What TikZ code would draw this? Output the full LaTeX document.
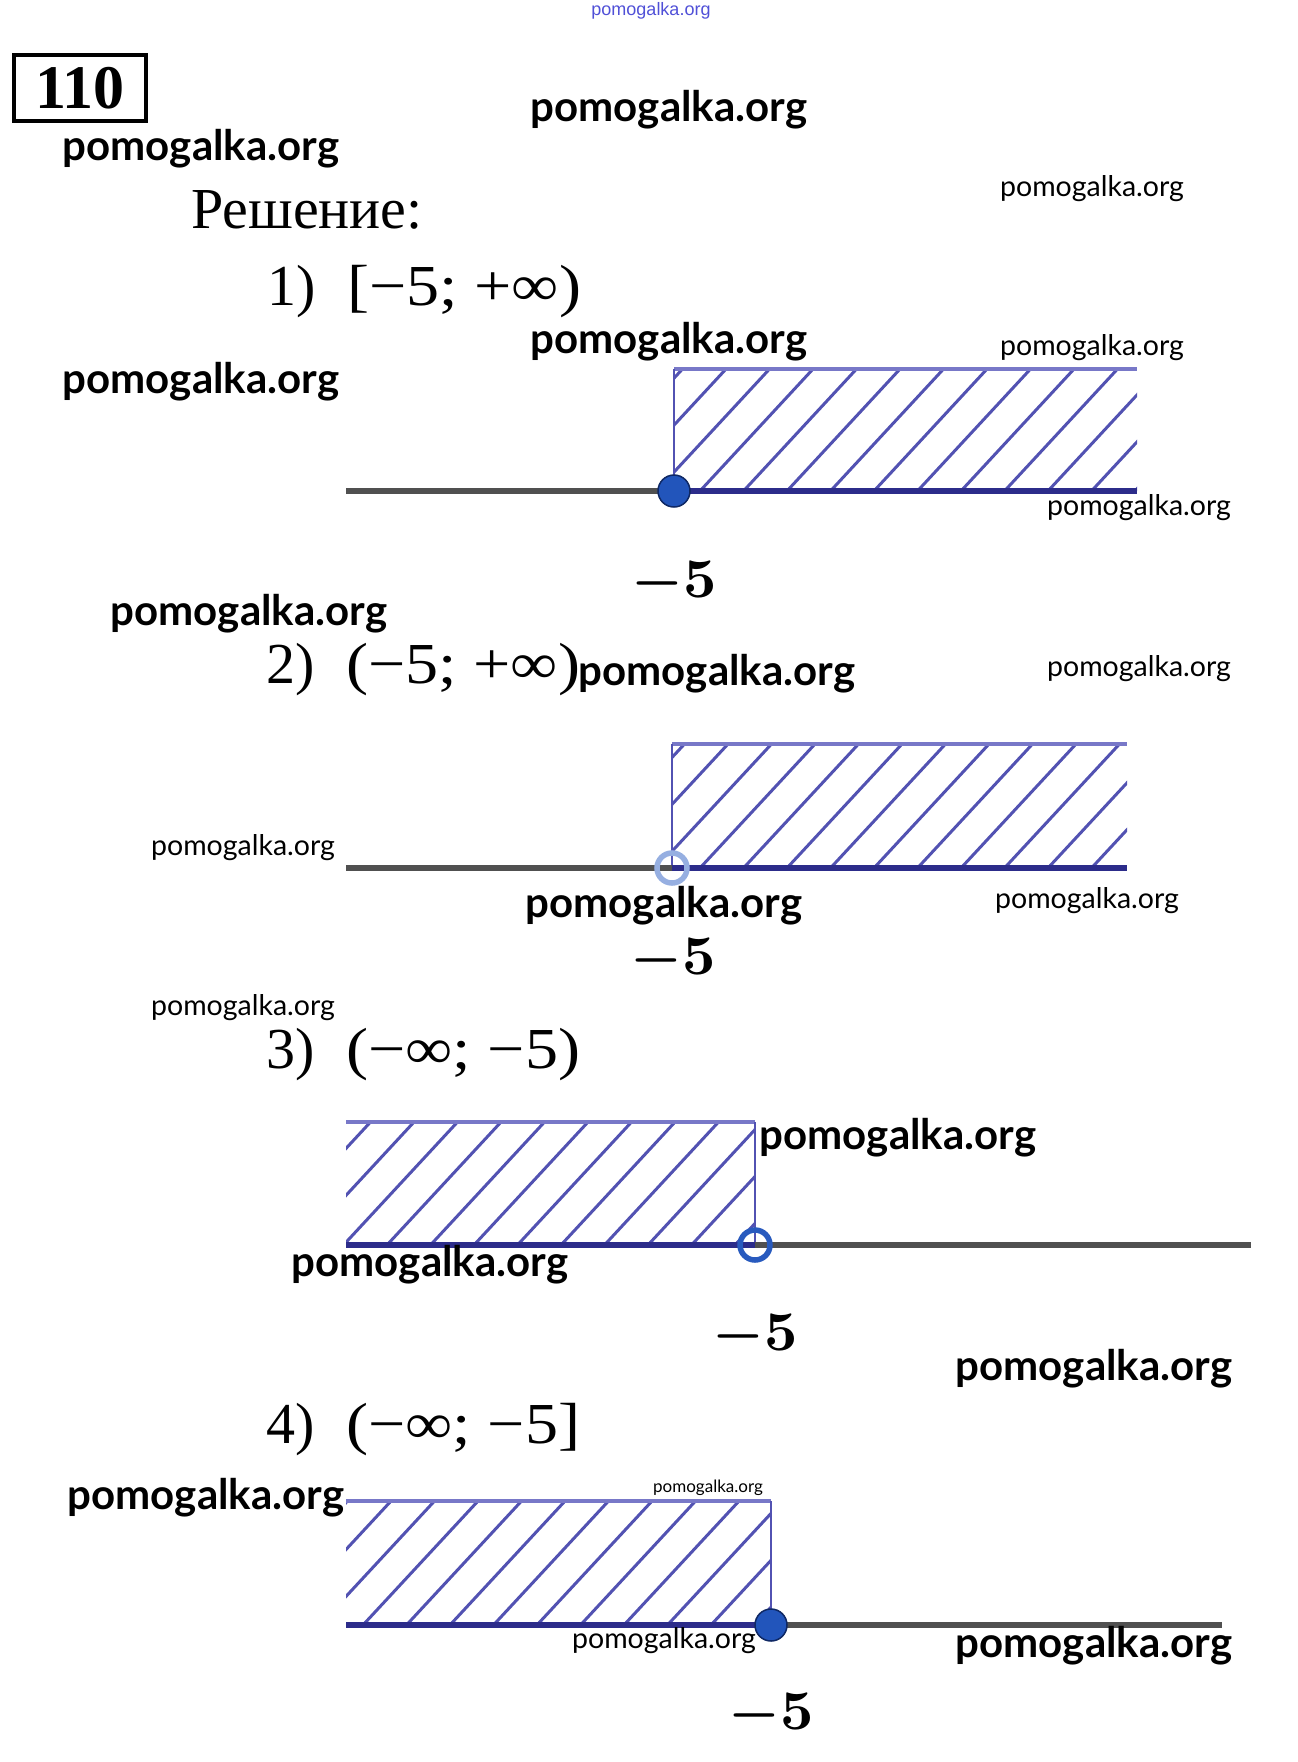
\documentclass[tikz,border=0pt]{standalone}
\usepackage[no-math]{fontspec}
\setmainfont{Liberation Serif}
\newfontfamily\wmfont{Lato}
\newfontfamily\topfont{Liberation Sans}
\usepackage{graphicx}
\usepackage{xcolor}
\definecolor{hatchblue}{RGB}{82,82,178}
\definecolor{topblue}{RGB}{120,120,200}
\definecolor{lineblue}{RGB}{44,44,138}
\definecolor{linegray}{RGB}{80,80,80}
\definecolor{dotblue}{RGB}{34,85,187}
\definecolor{dotedge}{RGB}{15,40,100}
\definecolor{ringblue}{RGB}{40,90,190}
\definecolor{ringlight}{RGB}{150,175,225}
\definecolor{wmblue}{RGB}{80,80,215}
\newcommand{\minusfive}{\scalebox{5.8}[5.6]{\boldmath$-5$}}
\newcommand{\interval}[1]{\scalebox{1.14}[1]{#1}}

\begin{document}
\begin{tikzpicture}[x=1pt,y=-1pt]
\tikzstyle{wmbold} = [font=\wmfont\bfseries\fontsize{42}{46}\selectfont, inner sep=0pt]
\tikzstyle{wmreg} = [font=\wmfont\fontsize{28.5}{31}\selectfont, inner sep=0pt]
\tikzstyle{wmtiny} = [font=\wmfont\fontsize{17}{19}\selectfont, inner sep=0pt]
\tikzstyle{wmtop} = [font=\topfont\fontsize{18}{20}\selectfont, text=wmblue, inner sep=0pt]
\tikzstyle{answer} = [font=\fontsize{58}{64}\selectfont, anchor=base west, inner sep=0pt]
\tikzstyle{fivelabel} = [inner sep=0pt]
\tikzstyle{hatch} = [draw=hatchblue, line width=3pt]
\tikzstyle{topedge} = [draw=topblue, line width=4.5pt]
\tikzstyle{sideedge} = [draw=hatchblue, line width=2pt]
\tikzstyle{grayaxis} = [draw=linegray, line width=6.5pt]
\tikzstyle{blueaxis} = [draw=lineblue, line width=6pt]
\tikzstyle{fulldot} = [circle, fill=dotblue, draw=dotedge, line width=1.5pt, minimum size=32pt, inner sep=0pt]
\tikzstyle{opendot} = [circle, draw=ringblue, line width=5.5pt, minimum size=30pt, inner sep=0pt]
\useasboundingbox (0,0) rectangle (1298,1762);

% header
\node[wmtop] (wm0) at (651,11) {pomogalka.org};
\node[draw, line width=3.5pt, minimum width=132pt, minimum height=66pt, inner sep=0pt,
  font=\bfseries\fontsize{62}{66}\selectfont] (num) at (80,88) {110};
\node[font=\fontsize{58}{64}\selectfont, anchor=base west, inner sep=0pt] (sol) at (191,228) {Решение:};

% item 1
\node[answer] (h1) at (267,305) {1)\hspace{0.55em}\interval{[−5; +∞)}};
\coordinate (l1) at (346,491);
\coordinate (c1) at (674,491);
\coordinate (r1) at (1137,491);
\coordinate (t1) at (674,369);
\coordinate (e1) at (1137,369);
\begin{scope}
\clip (t1) rectangle (r1);
\foreach \i in {-3,...,11} \draw[hatch] (700+43.5*\i,491) -- ++(113,-122);
\end{scope}
\draw[topedge] (t1) -- (e1);
\draw[sideedge] (t1) -- (c1);
\draw[grayaxis] (l1) -- (c1);
\draw[blueaxis] (c1) -- (r1);
\node[fulldot] (p1) at (c1) {};
\node[fivelabel] (m1) at (674,583) {\minusfive};

% item 2
\node[answer] (h2) at (266,683) {2)\hspace{0.55em}\interval{(−5; +∞)}};
\coordinate (l2) at (346,868);
\coordinate (c2) at (672,868);
\coordinate (r2) at (1127,868);
\coordinate (t2) at (672,744);
\coordinate (e2) at (1127,744);
\begin{scope}
\clip (t2) rectangle (r2);
\foreach \i in {-3,...,11} \draw[hatch] (700+43.5*\i,868) -- ++(115,-124);
\end{scope}
\draw[topedge] (t2) -- (e2);
\draw[sideedge] (t2) -- (c2);
\draw[grayaxis] (l2) -- (c2);
\draw[blueaxis] (c2) -- (r2);
\node[opendot, draw=ringlight] (p2) at (c2) {};
\node[fivelabel] (m2) at (673,960) {\minusfive};

% item 3
\node[answer] (h3) at (266,1068) {3)\hspace{0.55em}\interval{(−∞; −5)}};
\coordinate (l3) at (346,1245);
\coordinate (c3) at (755,1245);
\coordinate (r3) at (1251,1245);
\coordinate (t3) at (346,1122);
\coordinate (e3) at (755,1122);
\begin{scope}
\clip (t3) rectangle (c3);
\foreach \i in {-3,...,10} \draw[hatch] (343.5+43.5*\i,1245) -- ++(114,-123);
\end{scope}
\draw[topedge] (t3) -- (e3);
\draw[sideedge] (e3) -- (c3);
\draw[blueaxis] (l3) -- (c3);
\draw[grayaxis] (c3) -- (r3);
\node[opendot] (p3) at (c3) {};
\node[fivelabel] (m3) at (755,1336) {\minusfive};

% item 4
\node[answer] (h4) at (266,1443) {4)\hspace{0.55em}\interval{(−∞; −5]}};
\coordinate (l4) at (346,1625);
\coordinate (c4) at (771,1625);
\coordinate (r4) at (1222,1625);
\coordinate (t4) at (346,1501);
\coordinate (e4) at (771,1501);
\begin{scope}
\clip (t4) rectangle (c4);
\foreach \i in {-3,...,10} \draw[hatch] (363+43.5*\i,1625) -- ++(115,-124);
\end{scope}
\draw[topedge] (t4) -- (e4);
\draw[sideedge] (e4) -- (c4);
\draw[blueaxis] (l4) -- (c4);
\draw[grayaxis] (c4) -- (r4);
\node[fulldot] (p4) at (c4) {};
\node[fivelabel] (m4) at (771,1715) {\minusfive};

% watermarks
\node[wmbold] (wm1) at (669,110) {pomogalka.org};
\node[wmbold] (wm2) at (201,149) {pomogalka.org};
\node[wmreg] (wm3) at (1092,189) {pomogalka.org};
\node[wmbold] (wm4) at (669,342) {pomogalka.org};
\node[wmreg] (wm5) at (1092,348) {pomogalka.org};
\node[wmbold] (wm6) at (201,382) {pomogalka.org};
\node[wmreg] (wm7) at (1139,508) {pomogalka.org};
\node[wmbold] (wm8) at (249,614) {pomogalka.org};
\node[wmbold] (wm9) at (717,674) {pomogalka.org};
\node[wmreg] (wm10) at (1139,669) {pomogalka.org};
\node[wmreg] (wm11) at (243,848) {pomogalka.org};
\node[wmbold] (wm12) at (664,906) {pomogalka.org};
\node[wmreg] (wm13) at (1087,901) {pomogalka.org};
\node[wmreg] (wm14) at (243,1008) {pomogalka.org};
\node[wmbold] (wm15) at (898,1138) {pomogalka.org};
\node[wmbold] (wm16) at (430,1265) {pomogalka.org};
\node[wmbold] (wm17) at (1094,1369) {pomogalka.org};
\node[wmbold] (wm18) at (206,1498) {pomogalka.org};
\node[wmtiny] (wm19) at (708,1488) {pomogalka.org};
\node[wmreg] (wm20) at (664,1641) {pomogalka.org};
\node[wmbold] (wm21) at (1094,1646) {pomogalka.org};
\end{tikzpicture}
\end{document}
